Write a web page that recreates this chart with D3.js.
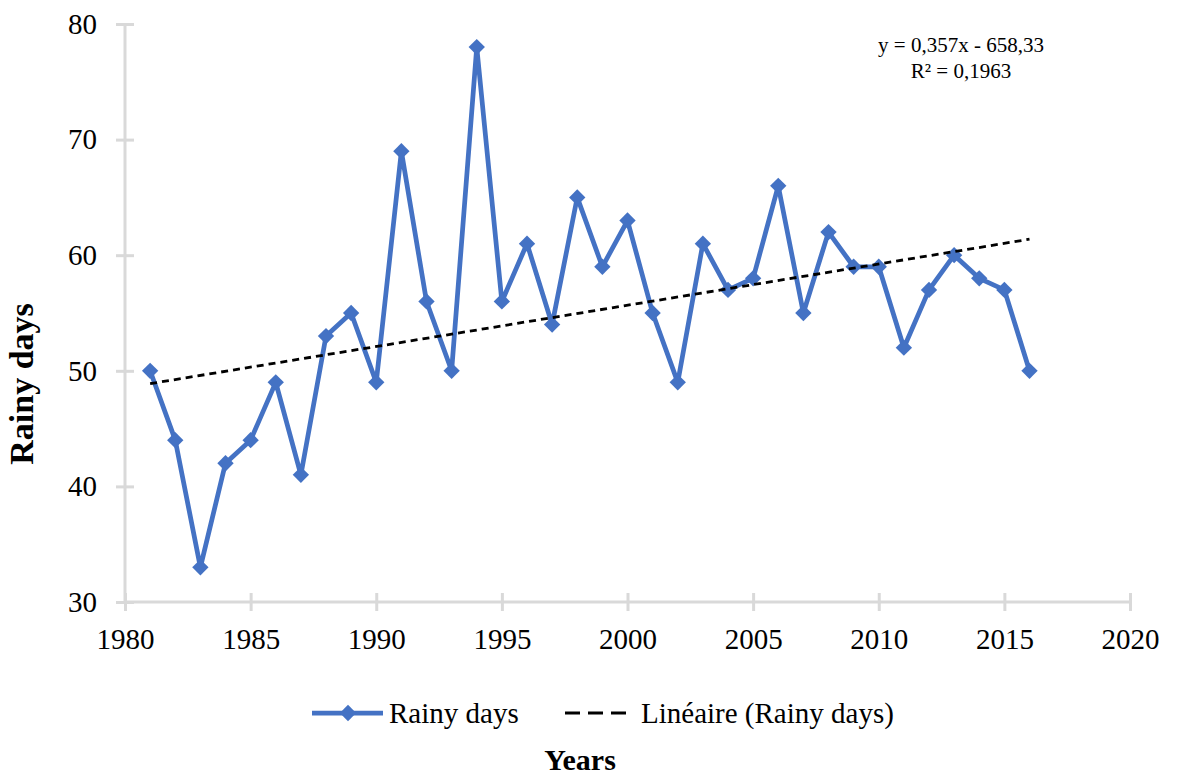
<!DOCTYPE html>
<html>
<head>
<meta charset="utf-8">
<script src="https://cdn.jsdelivr.net/npm/d3@7"></script>
<style>
  html, body { margin: 0; padding: 0; background: #fff; }
  svg { display: block; font-family: "Liberation Serif", "Times New Roman", serif; }
</style>
</head>
<body>
<svg id="chart" width="1177" height="775"></svg>
<script>
// Annual count of rainy days
const years = [1981,1982,1983,1984,1985,1986,1987,1988,1989,1990,1991,1992,1993,1994,1995,1996,1997,1998,
               1999,2000,2001,2002,2003,2004,2005,2006,2007,2008,2009,2010,2011,2012,2013,2014,2015,2016];
const rainyDays = [50,44,33,42,44,49,41,53,55,49,69,56,50,78,56,61,54,65,
                   59,63,55,49,61,57,58,66,55,62,59,59,52,57,60,58,57,50];

// Linear trend (slope, intercept) and its fit
const trendSlope = 0.357;
const trendIntercept = -658.33;
const trendLabel = "y = 0,357x - 658,33";
const r2Label = "R² = 0,1963";

const xTicks = [1980,1985,1990,1995,2000,2005,2010,2015,2020];
const yTicks = [30,40,50,60,70,80];

const svg = d3.select("#chart");
const x = d3.scaleLinear().domain([1980, 2020]).range([125, 1130]);
const y = d3.scaleLinear().domain([30, 80]).range([602, 24]);

const axisColor = "#d9d9d9";
const blue = "#4472C4";
const serif = "Liberation Serif";

// Y axis
const yAxis = svg.append("g").attr("transform", `translate(${x(1980)},0)`)
  .call(d3.axisLeft(y).tickValues(yTicks).tickSize(9).tickPadding(19).tickFormat(d3.format("d")));
yAxis.select(".domain").attr("stroke", axisColor).attr("stroke-width", 3).attr("d", `M0,${y(80)}V${y(30)}`);
yAxis.selectAll(".tick line").attr("stroke", axisColor).attr("stroke-width", 3).attr("x1", -9).attr("x2", 9);
yAxis.selectAll(".tick text").attr("font-size", 29).attr("fill", "#000").attr("font-family", serif);

// X axis
const xAxis = svg.append("g").attr("transform", `translate(0,${y(30)})`)
  .call(d3.axisBottom(x).tickValues(xTicks).tickSize(9).tickPadding(17).tickFormat(d3.format("d")));
xAxis.select(".domain").attr("stroke", axisColor).attr("stroke-width", 3).attr("d", `M${x(1980)},0H${x(2020)}`);
xAxis.selectAll(".tick line").attr("stroke", axisColor).attr("stroke-width", 3).attr("y1", -9).attr("y2", 9);
xAxis.selectAll(".tick text").attr("font-size", 29).attr("fill", "#000").attr("font-family", serif);

// Data series
const line = d3.line().x((d, i) => x(years[i])).y(d => y(d));
svg.append("path").datum(rainyDays)
  .attr("d", line).attr("fill", "none").attr("stroke", blue)
  .attr("stroke-width", 4.75).attr("stroke-linejoin", "round");

const diamond = d3.symbol().type(d3.symbolDiamond2).size(170);
svg.append("g").selectAll("path").data(rainyDays).join("path")
  .attr("transform", (d, i) => `translate(${x(years[i])},${y(d)})`)
  .attr("d", diamond).attr("fill", blue);

// Trend line
const trendYears = [years[0], years[years.length - 1]];
svg.append("path")
  .attr("d", d3.line().x(d => x(d)).y(d => y(trendSlope * d + trendIntercept))(trendYears))
  .attr("fill", "none").attr("stroke", "#000").attr("stroke-width", 2.8)
  .attr("stroke-dasharray", "7,5");

// Equation
svg.append("text").attr("x", 961).attr("y", 52).attr("text-anchor", "middle")
  .attr("font-size", 21).text(trendLabel);
svg.append("text").attr("x", 961).attr("y", 78).attr("text-anchor", "middle")
  .attr("font-size", 21).text(r2Label);

// Axis titles
svg.append("text").attr("transform", `translate(33,384) rotate(-90)`)
  .attr("text-anchor", "middle").attr("font-size", 34).attr("font-weight", "bold").text("Rainy days");
svg.append("text").attr("x", 580).attr("y", 770).attr("text-anchor", "middle")
  .attr("font-size", 30).attr("font-weight", "bold").text("Years");

// Legend
const ly = 713;
svg.append("line").attr("x1", 312).attr("x2", 383).attr("y1", ly).attr("y2", ly)
  .attr("stroke", blue).attr("stroke-width", 4.75);
svg.append("path").attr("transform", `translate(348,${ly})`).attr("d", diamond).attr("fill", blue);
svg.append("text").attr("x", 389).attr("y", ly + 10).attr("font-size", 29).text("Rainy days");
svg.append("line").attr("x1", 565).attr("x2", 626).attr("y1", ly).attr("y2", ly)
  .attr("stroke", "#000").attr("stroke-width", 3).attr("stroke-dasharray", "15,8");
svg.append("text").attr("x", 641).attr("y", ly + 10).attr("font-size", 29).text("Linéaire (Rainy days)");
</script>
</body>
</html>
